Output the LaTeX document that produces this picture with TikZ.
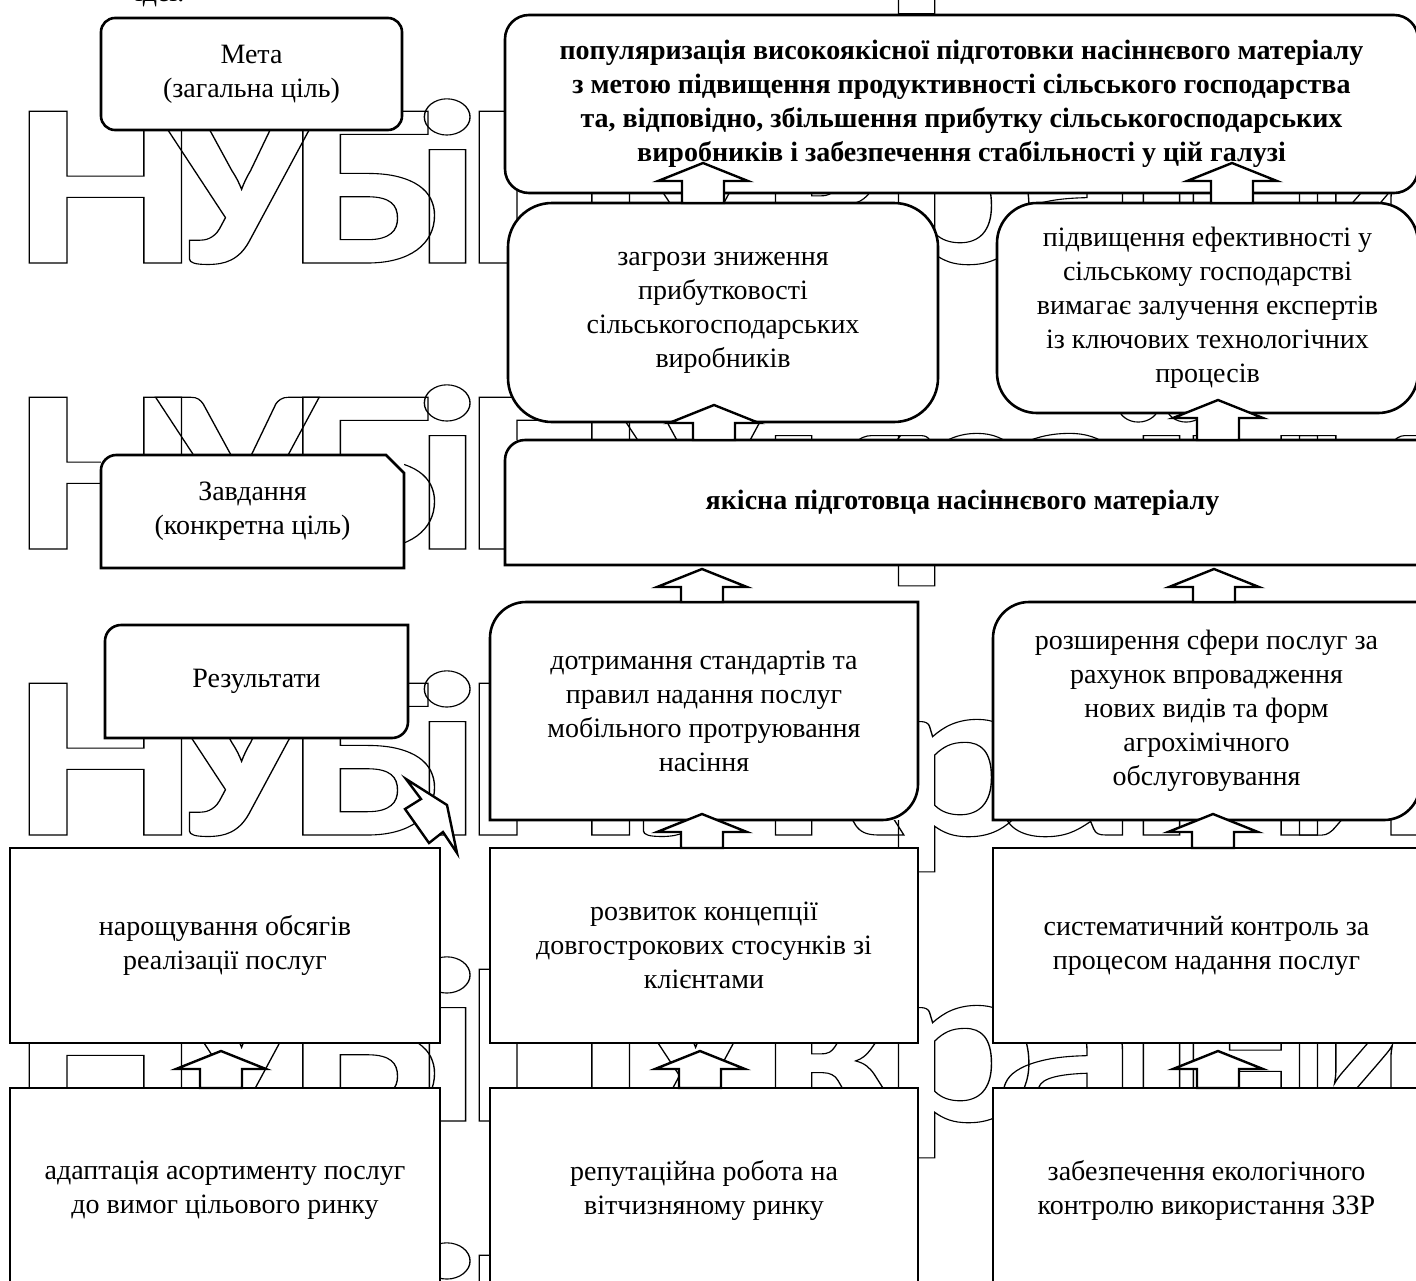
\documentclass[tikz,border=0pt]{standalone}
\usepackage{fontspec}
\setmainfont{Liberation Serif}
\newfontfamily\wmfont{Carlito}
\usetikzlibrary{calc, positioning}

% hollow (outlined) text for the watermark
\newlength{\wmu}
\setlength{\wmu}{0.5pt}
\newcommand{\hollow}[1]{\special{pdf:literal direct 1 Tr 0.55 w}#1\special{pdf:literal direct 0 Tr}}
\newcommand{\wg}[2]{\rlap{\hspace*{#1\wmu}\makebox[0pt]{\scalebox{1.25}[1]{#2}}}}
\newcommand{\wmline}{\wg{104}{Н}\wg{236}{У}\wg{366}{Б}\wg{446}{і}\wg{553}{П}\wg{690}{У}\wg{830}{к}\wg{958}{р}\wg{1064}{а}\wg{1160}{ї}\wg{1254}{н}\wg{1362}{и}}

% frame with round top-left and bottom-right corners
\newcommand{\tlbrframe}[2]{%
  \draw[frame] (#1.south west) -- ($(#1.north west)+(0,#2)$)
    .. controls ($(#1.north west)+(0,0.45*#2)$) and ($(#1.north west)+(0.45*#2,0)$) .. ($(#1.north west)+(#2,0)$)
    -- (#1.north east) -- ($(#1.south east)+(0,-#2)$)
    .. controls ($(#1.south east)+(0,-0.45*#2)$) and ($(#1.south east)+(-0.45*#2,0)$) .. ($(#1.south east)+(-#2,0)$)
    -- cycle;}
% block arrow pointing up from a node
\newcommand{\blockup}[3]{%
  \draw[barr] (#1,0 |- #2.north) ++(-21,0) -- ++(0,{-(#3-18)}) -- ++(-24,0) -- ++(45,-18)
    -- ++(45,18) -- ++(-24,0) -- ++(0,{#3-18}) -- cycle;}

\begin{document}
\begin{tikzpicture}[x=0.5pt, y=-0.5pt,
  txt/.style={font=\fontsize{14}{17}\selectfont, align=center, inner sep=0pt, outer sep=0pt},
  bold/.style={font=\fontsize{14}{17}\selectfont\bfseries},
  sz/.style 2 args={minimum width={#1*0.5pt}, minimum height={#2*0.5pt}},
  rbox/.style={txt, draw, fill=white, line width=1.3pt, rounded corners=#1},
  sbox/.style={txt, draw, fill=white, line width=1.3pt},
  fbox/.style={txt, fill=white},
  frame/.style={draw, line width=1.3pt},
  barr/.style={draw, fill=white, line width=1.2pt, line join=miter},
  wmark/.style={font=\wmfont\bfseries\fontsize{117}{117}\selectfont, inner sep=0pt, anchor=base west}
]
\useasboundingbox (0,0) rectangle (1416,1280);
\clip (0,0) rectangle (1416,1280);

% watermark
\foreach \rowy [count=\i] in {-171,115,401,687,973,1259}
  \node[wmark] (wm\i) at (0,\rowy+148) {\hollow{\wmline}};

\node[txt, anchor=base west] (idei) at (135,1) {ідеї.};

% goals
\node[rbox=7pt, sz={301}{112}] (meta) at (251.5,74) {Мета\\(загальна ціль)};
\node[rbox=12pt, sz={913}{178}, bold] (goal) at (961.5,104) {популяризація високоякісної підготовки насіннєвого матеріалу\\з метою підвищення продуктивності сільського господарства\\та, відповідно, збільшення прибутку сільськогосподарських\\виробників і забезпечення стабільності у цій галузі};
\node[rbox=22pt, sz={430}{219}] (zagr) at (723,312.5) {загрози зниження\\прибутковості\\сільськогосподарських\\виробників};
\node[rbox=20pt, sz={421}{210}] (efekt) at (1207.5,308) {підвищення ефективності у\\сільському господарстві\\вимагає залучення експертів\\із ключових технологічних\\процесів};

% tasks
\node[fbox, sz={915}{125}, bold] (yak) at (962.5,502.5) {якісна підготовца насіннєвого матеріалу};
\node[fbox, sz={303}{113}] (zavd) at (252.5,511.5) {Завдання\\(конкретна ціль)};
\node[fbox, sz={303}{113}] (rezult) at (256.5,681.5) {Результати};

% results
\node[sbox, sz={430}{195}] (narosh) at (225,945.5) {нарощування обсягів\\реалізації послуг};
\node[sbox, sz={428}{195}, right=25pt of narosh] (rozvyt) {розвиток концепції\\довгострокових стосунків зі\\клієнтами};
\node[sbox, sz={427}{195}, right=37.5pt of rozvyt] (system) {систематичний контроль за\\процесом надання послуг};
\node[sbox, sz={430}{204}, below=22.5pt of narosh] (adapt) {адаптація асортименту послуг\\до вимог цільового ринку};
\node[sbox, sz={428}{204}, right=25pt of adapt] (reput) {репутаційна робота на\\вітчизняному ринку};
\node[sbox, sz={427}{204}, right=37.5pt of reput] (zabezp) {забезпечення екологічного\\контролю використання ЗЗР};
\node[fbox, sz={428}{218}, above=14pt of rozvyt] (dotr) {дотримання стандартів та\\правил надання послуг\\мобільного протруювання\\насіння};
\node[fbox, sz={427}{218}, above=14pt of system] (rozsh) {розширення сфери послуг за\\рахунок впровадження\\нових видів та форм\\агрохімічного\\обслуговування};

% frames
\tlbrframe{dotr}{36}
\tlbrframe{rozsh}{36}
\tlbrframe{rezult}{16}
\draw[frame] (yak.south west) -- ($(yak.north west)+(0,20)$)
  .. controls ($(yak.north west)+(0,9)$) and ($(yak.north west)+(9,0)$) .. ($(yak.north west)+(20,0)$)
  -- (yak.north east) -- (yak.south east) -- cycle;
\draw[frame] (zavd.south west) -- ($(zavd.north west)+(0,15)$)
  .. controls ($(zavd.north west)+(0,7)$) and ($(zavd.north west)+(7,0)$) .. ($(zavd.north west)+(15,0)$)
  -- ($(zavd.north east)+(-18,0)$) -- ($(zavd.north east)+(0,18)$) -- (zavd.south east) -- cycle;

% arrows
\blockup{703}{zagr}{40}
\blockup{1232}{efekt}{40}
\blockup{714}{yak}{35}
\blockup{1218}{yak}{40}
\blockup{702}{dotr}{33}
\blockup{1214}{rozsh}{33}
\blockup{702}{rozvyt}{34}
\blockup{1213}{system}{34}
\blockup{221}{adapt}{37}
\blockup{700}{reput}{37}
\blockup{1218}{zabezp}{37}
\draw[barr] ($(rezult.south east)+(-2,41)$) -- ++(41,26) -- ++(10,48) -- ++(-14,-21)
  -- ++(-14,11) -- ++(-24,-34) -- ++(16,-10) -- cycle;
\end{tikzpicture}
\end{document}
